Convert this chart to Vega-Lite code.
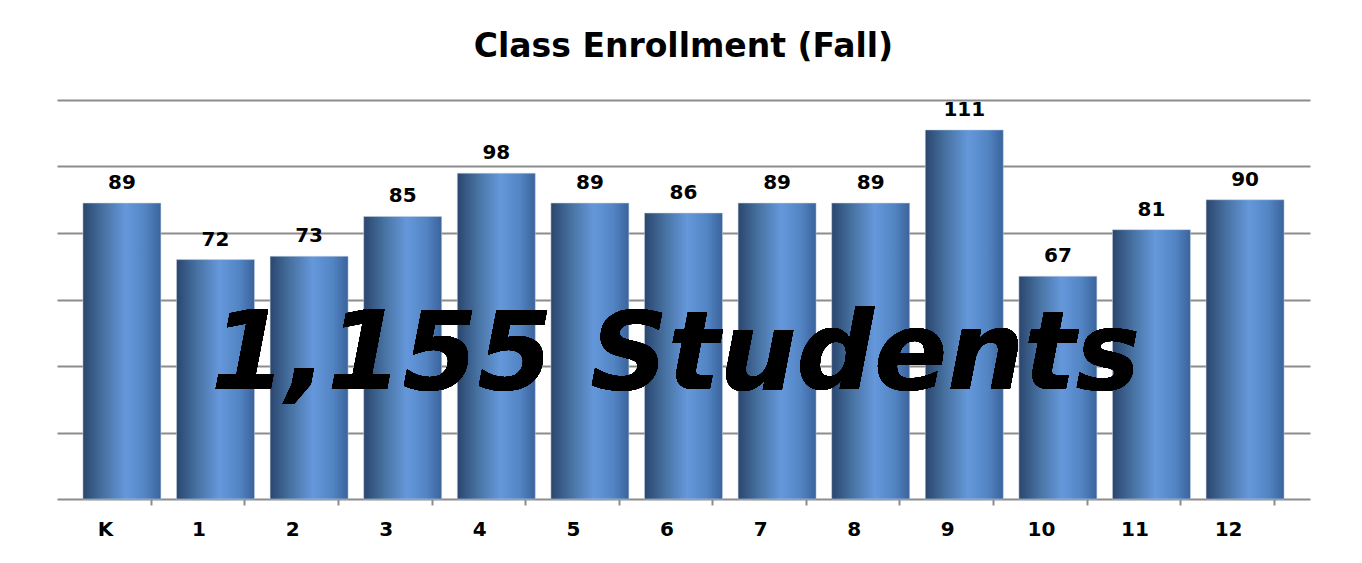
{
  "$schema": "https://vega.github.io/schema/vega-lite/v6.json",
  "width": 1253,
  "height": 399,
  "padding": {"left": 57, "top": 30, "right": 52, "bottom": 0},
  "background": "white",
  "title": {
    "text": "Class Enrollment (Fall)",
    "font": "DejaVu Sans",
    "fontSize": 33,
    "fontWeight": "bold",
    "color": "#000000",
    "anchor": "middle",
    "offset": 36
  },
  "data": {
    "values": [
      {"grade": "K", "students": 89},
      {"grade": "1", "students": 72},
      {"grade": "2", "students": 73},
      {"grade": "3", "students": 85},
      {"grade": "4", "students": 98},
      {"grade": "5", "students": 89},
      {"grade": "6", "students": 86},
      {"grade": "7", "students": 89},
      {"grade": "8", "students": 89},
      {"grade": "9", "students": 111},
      {"grade": "10", "students": 67},
      {"grade": "11", "students": 81},
      {"grade": "12", "students": 90}
    ]
  },
  "encoding": {
    "x": {
      "field": "grade",
      "type": "nominal",
      "sort": null,
      "scale": {"paddingInner": 0.1667, "paddingOuter": 0.277},
      "axis": {
        "title": null,
        "labelAngle": 0,
        "labelFont": "DejaVu Sans",
        "labelFontSize": 20,
        "labelFontWeight": "bold",
        "labelColor": "#000000",
        "labelPadding": 14,
        "tickOffset": 28.8,
        "labelOffset": -45.8,
        "tickSize": 6,
        "tickWidth": 2,
        "tickColor": "#8c8c8c",
        "domainColor": "#8c8c8c",
        "domainWidth": 2,
        "grid": false
      }
    },
    "y": {
      "field": "students",
      "type": "quantitative",
      "scale": {"domain": [0, 120], "nice": false, "zero": true},
      "axis": {
        "title": null,
        "labels": false,
        "ticks": false,
        "domain": false,
        "grid": true,
        "values": [20, 40, 60, 80, 100, 120],
        "gridColor": "#8c8c8c",
        "gridWidth": 2,
        "gridOpacity": 1
      }
    }
  },
  "layer": [
    {
      "mark": {
        "type": "bar",
        "color": {
          "gradient": "linear",
          "x1": 0, "y1": 0, "x2": 1, "y2": 0,
          "stops": [
            {"offset": 0, "color": "#2a466e"},
            {"offset": 0.25, "color": "#46709f"},
            {"offset": 0.55, "color": "#6598db"},
            {"offset": 0.8, "color": "#5385c4"},
            {"offset": 1, "color": "#3a639b"}
          ]
        },
        "stroke": "#c9d4e4",
        "strokeWidth": 0.5
      }
    },
    {
      "mark": {
        "type": "text",
        "font": "DejaVu Sans",
        "fontSize": 20,
        "fontWeight": "bold",
        "color": "#000000",
        "baseline": "alphabetic",
        "dy": -14
      },
      "encoding": {
        "text": {"field": "students", "type": "quantitative"}
      }
    },
    {
      "mark": {
        "type": "text",
        "text": "1,155 Students",
        "font": "DejaVu Sans",
        "fontSize": 108,
        "fontWeight": "bold",
        "fontStyle": "italic",
        "color": "#000000",
        "align": "center",
        "baseline": "alphabetic",
        "dx": -8,
        "dy": 23
      },
      "encoding": {
        "x": {"datum": "6"},
        "y": {"datum": 40},
        "text": null
      }
    }
  ],
  "config": {
    "view": {"stroke": null}
  }
}
